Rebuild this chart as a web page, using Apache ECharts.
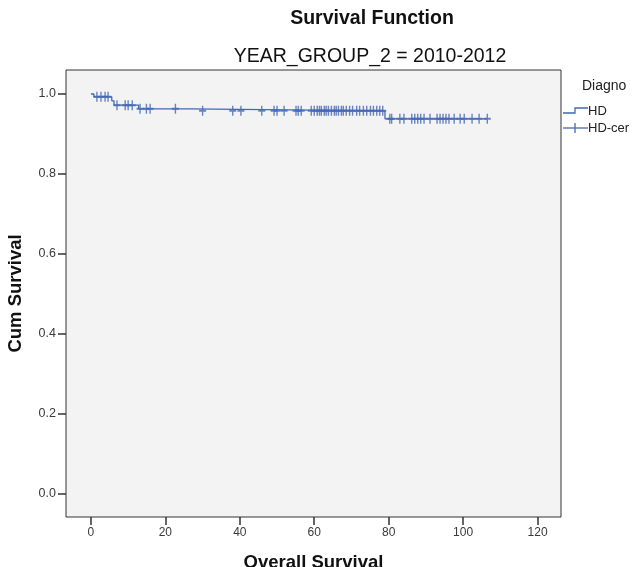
<!DOCTYPE html>
<html>
<head>
<meta charset="utf-8">
<script src="https://cdn.jsdelivr.net/npm/echarts@6/dist/echarts.min.js"></script>
<style>
html, body { margin: 0; padding: 0; background: #fff; }
#chart { width: 632px; height: 567px; }
</style>
</head>
<body>
<div id="chart"></div>
<script>
// Kaplan-Meier steps (time in months, cumulative survival)
var stepTimes = [0, 0.8, 5.6, 6.2, 12.8, 26.8, 79.0];
var stepSurv = [1.0, 0.993, 0.983, 0.972, 0.963, 0.958, 0.938];
var lastTime = 106.5;

// censored cases
var censorTimes = [
    1.6, 2.7, 3.8, 4.6,
    7.0, 9.2, 10.0, 11.1,
    13.2, 14.9, 15.9, 22.7,
    30.0, 38.1, 40.3, 45.9, 49.2, 50.0, 51.9, 55.1, 55.7, 56.5, 59.2, 60.0, 60.8, 61.4,
    61.9, 62.7, 63.2, 63.8, 64.6, 65.4, 65.9, 66.5, 67.3, 67.8, 68.6, 69.5, 70.3, 71.4,
    72.2, 73.2, 74.1, 75.1, 75.9, 76.8, 77.6, 78.4,
    80.3, 80.8, 83.0, 84.1, 86.2, 87.0, 87.8, 88.6, 89.5, 91.1, 93.0, 93.8, 94.6, 95.4,
    96.2, 97.6, 99.2, 100.3, 102.4, 104.3, 106.5
];

var xTicks = [0, 20, 40, 60, 80, 100, 120];
var yTicks = [0, 0.2, 0.4, 0.6, 0.8, 1.0];

var blue = '#4468b4';
var ink = '#333';

function survAt(t) {
    var s = stepSurv[0];
    for (var i = 0; i < stepTimes.length; i++) {
        if (stepTimes[i] <= t) s = stepSurv[i];
    }
    return s;
}

var curve = stepTimes.map(function (t, i) { return [t, stepSurv[i]]; });
curve.push([lastTime, stepSurv[stepSurv.length - 1]]);
var censored = censorTimes.map(function (t) { return [t, survAt(t)]; });

var plus = 'path://M4,0h2v4h4v2h-4v4h-2v-4h-4v-2h4z';
var font = 'Arial, "Liberation Sans", sans-serif';

var chart = echarts.init(document.getElementById('chart'));
chart.setOption({
    animation: false,
    backgroundColor: '#fff',
    grid: {
        left: 66, right: 71, top: 70, bottom: 50,
        outerBoundsMode: 'none',
        containLabel: false,
        show: true,
        backgroundColor: '#f3f3f3',
        borderColor: ink,
        borderWidth: 1
    },
    xAxis: {
        type: 'value',
        min: -6.7,
        max: 126.3,
        name: 'Overall Survival',
        nameLocation: 'middle',
        nameGap: 36,
        nameTextStyle: { fontFamily: font, fontSize: 18.5, fontWeight: 'bold', color: '#111' },
        axisLine: { show: false, onZero: false },
        axisTick: { show: true, length: 8, customValues: xTicks, lineStyle: { color: ink, width: 1.5 } },
        axisLabel: { customValues: xTicks, fontFamily: font, fontSize: 12, color: '#3a3a3a', margin: 10 },
        splitLine: { show: false }
    },
    yAxis: {
        type: 'value',
        min: -0.058,
        max: 1.06,
        name: 'Cum Survival',
        nameLocation: 'middle',
        nameGap: 41,
        nameTextStyle: { fontFamily: font, fontSize: 18.5, fontWeight: 'bold', color: '#111' },
        axisLine: { show: false, onZero: false },
        axisTick: { show: true, length: 8, customValues: yTicks, lineStyle: { color: ink, width: 1.5 } },
        axisLabel: {
            customValues: yTicks, fontFamily: font, fontSize: 12.5, color: '#3a3a3a', margin: 10,
            formatter: function (v) { return v.toFixed(1); }
        },
        splitLine: { show: false }
    },
    series: [{
        type: 'line',
        step: 'end',
        data: curve,
        showSymbol: false,
        lineStyle: { color: blue, width: 1.3 },
        z: 2
    }, {
        type: 'scatter',
        data: censored,
        symbol: plus,
        symbolSize: [7, 10],
        itemStyle: { color: blue },
        z: 3
    }],
    graphic: [
        { type: 'text', x: 372, y: 19, style: { text: 'Survival Function', align: 'center', verticalAlign: 'middle', font: 'bold 19.5px ' + font, fill: '#111' } },
        { type: 'text', x: 370, y: 57, style: { text: 'YEAR_GROUP_2 = 2010-2012', align: 'center', verticalAlign: 'middle', font: '19.5px ' + font, fill: '#111' } },
        { type: 'text', x: 582, y: 86, style: { text: 'Diagno', align: 'left', verticalAlign: 'middle', font: '14px ' + font, fill: '#222' } },
        { type: 'polyline', shape: { points: [[563, 113], [575, 113], [575, 108], [588, 108]] }, style: { stroke: blue, lineWidth: 1.3, fill: null } },
        { type: 'text', x: 588, y: 111, style: { text: 'HD', align: 'left', verticalAlign: 'middle', font: '13px ' + font, fill: '#222' } },
        { type: 'line', shape: { x1: 563, y1: 128, x2: 588, y2: 128 }, style: { stroke: blue, lineWidth: 1.3 } },
        { type: 'line', shape: { x1: 575, y1: 123, x2: 575, y2: 133 }, style: { stroke: blue, lineWidth: 1.3 } },
        { type: 'text', x: 588, y: 128, style: { text: 'HD-cer', align: 'left', verticalAlign: 'middle', font: '13px ' + font, fill: '#222' } }
    ]
});
</script>
</body>
</html>
